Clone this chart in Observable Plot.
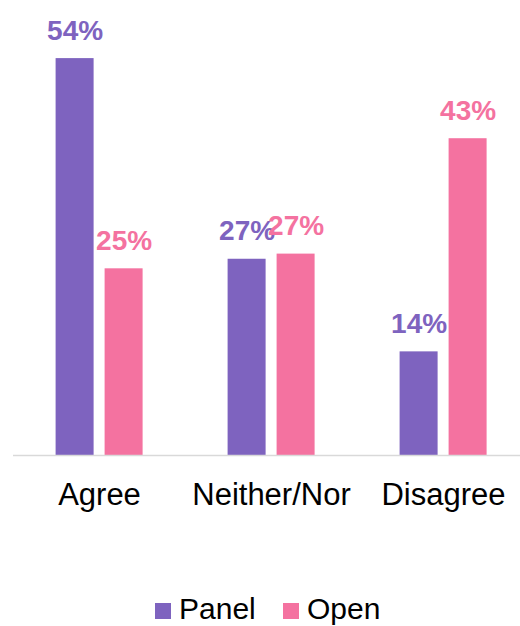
<!DOCTYPE html>
<html>
<head>
<meta charset="utf-8">
<script src="https://cdn.jsdelivr.net/npm/d3@7"></script>
<script src="https://cdn.jsdelivr.net/npm/@observablehq/plot@0.6"></script>
<style>
  html, body { margin: 0; padding: 0; background: #fff; }
  #chart { width: 520px; }
  #legend { position: relative; width: 520px; height: 86px; font-family: "Liberation Sans", Arial, sans-serif; font-size: 30px; color: #000; }
  .item { position: absolute; top: 52px; display: flex; align-items: baseline; }
  .sw { display: inline-block; width: 16px; height: 16px; margin-right: 8px; }
</style>
</head>
<body>
<div id="chart"></div>
<div id="legend"></div>
<script>
const categories = ["Agree", "Neither/Nor", "Disagree"];
const series = ["Panel", "Open"];
const panelValues = [54, 26.7, 14.1];
const openValues = [25.4, 27.4, 43.1];
const colors = ["#7E63BF", "#F472A0"];

const data = categories.flatMap((c, i) => [
  {category: c, series: series[0], value: panelValues[i]},
  {category: c, series: series[1], value: openValues[i]}
]);

const chart = Plot.plot({
  width: 520,
  height: 540,
  marginTop: 14,
  marginBottom: 85,
  marginLeft: 13.4,
  marginRight: -9.4,
  style: {fontFamily: "'Liberation Sans', Arial, sans-serif", color: "#000", background: "#fff"},
  fx: {domain: categories, padding: 0, label: null, axis: null},
  x: {domain: series, axis: null, paddingInner: 0.2143, paddingOuter: 0.8622},
  y: {domain: [0, 60], axis: null},
  color: {domain: series, range: colors},
  marks: [
    Plot.axisFx({anchor: "bottom", label: null, tickSize: 0, tickPadding: 27, fontSize: 31, fill: "#000"}),
    Plot.barY(data, {fx: "category", x: "series", y: "value", fill: "series"}),
    Plot.ruleY([0], {stroke: "#d9d9d9", strokeWidth: 1.5}),
    Plot.text(data, {
      fx: "category", x: "series", y: "value",
      text: d => Math.round(d.value) + "%",
      fill: "series", fontWeight: "bold", fontSize: 28,
      lineAnchor: "bottom", dy: -19
    })
  ]
});
document.getElementById("chart").appendChild(chart);

const legend = document.getElementById("legend");
const lefts = [155, 283];
series.forEach((s, i) => {
  const item = document.createElement("div");
  item.className = "item";
  item.style.left = lefts[i] + "px";
  const sw = document.createElement("span");
  sw.className = "sw";
  sw.style.background = colors[i];
  const t = document.createElement("span");
  t.textContent = s;
  item.appendChild(sw);
  item.appendChild(t);
  legend.appendChild(item);
});
</script>
</body>
</html>
